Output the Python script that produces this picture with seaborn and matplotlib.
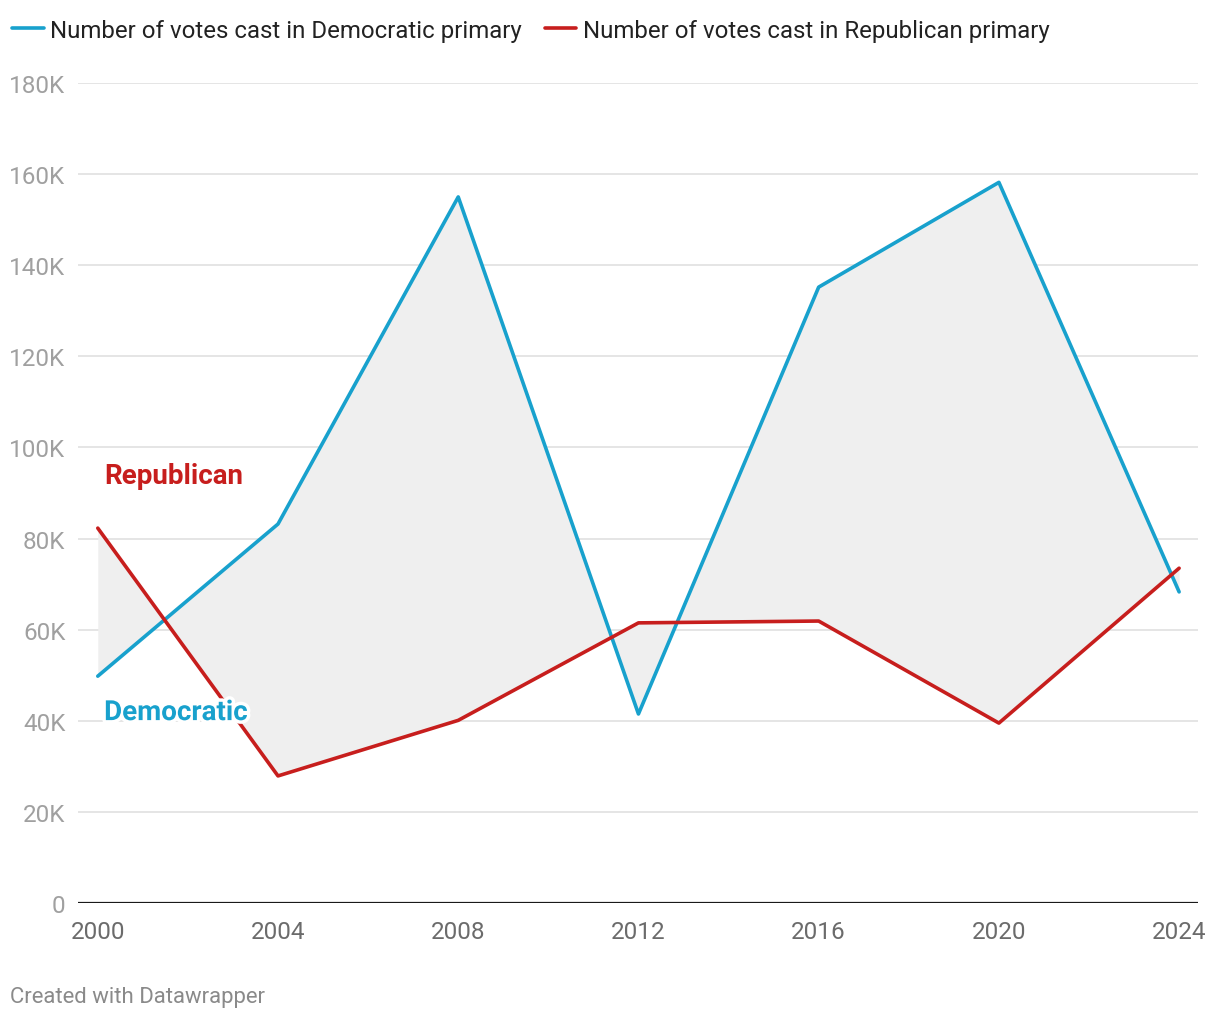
import pandas as pd
import matplotlib.pyplot as plt
import matplotlib.patheffects as pe
import seaborn as sns

# data
years = [2000, 2004, 2008, 2012, 2016, 2020, 2024]
dem_votes = [49800, 83200, 155000, 41500, 135200, 158200, 68300]
rep_votes = [82300, 27900, 40100, 61500, 61900, 39500, 73500]
y_ticks = [0, 20000, 40000, 60000, 80000, 100000, 120000, 140000, 160000, 180000]
y_labels = ['0', '20K', '40K', '60K', '80K', '100K', '120K', '140K', '160K', '180K']

dem_name = 'Number of votes cast in Democratic primary'
rep_name = 'Number of votes cast in Republican primary'

df = pd.DataFrame({
    'year': years * 2,
    'votes': dem_votes + rep_votes,
    'series': [dem_name] * len(years) + [rep_name] * len(years),
})

BLUE = '#18a1cd'
RED = '#c71e1d'

sns.set_style('white')
plt.rcParams['font.family'] = ['Roboto', 'DejaVu Sans']

fig = plt.figure(figsize=(12.2, 10.2), dpi=100)
ax = fig.add_axes([0.0639, 0.1137, 0.9181, 0.8039])

# shaded gap between the two lines
ax.fill_between(years, dem_votes, rep_votes, color='#efefef', lw=0, zorder=1)

sns.lineplot(data=df, x='year', y='votes', hue='series',
             palette={dem_name: BLUE, rep_name: RED},
             linewidth=2.6, ax=ax, zorder=3, legend=True)

ax.set_xlim(1999.56, 2024.42)
ax.set_ylim(0, 180000)
ax.set_yticks(y_ticks)
ax.set_yticklabels(y_labels)
ax.set_xticks(years)
ax.set_xticklabels([str(y) for y in years])
ax.set_xlabel('')
ax.set_ylabel('')

for t in y_ticks[1:]:
    ax.axhline(t, color='#e0e0e0', lw=1.2, zorder=0)
ax.axhline(0, color='#1a1a1a', lw=1.6, zorder=4)

for s in ax.spines.values():
    s.set_visible(False)

ax.tick_params(axis='y', length=0, pad=9, labelsize=17.5, labelcolor='#a0a0a0')
ax.tick_params(axis='x', length=0, pad=12, labelsize=17.5, labelcolor='#6b6b6b')

# legend on top
handles, labels = ax.get_legend_handles_labels()
ax.legend(handles, labels, loc='upper left', bbox_to_anchor=(-0.0075, 1.002),
          bbox_transform=fig.transFigure, ncol=2, frameon=False,
          fontsize=17.3, handlelength=1.3, handletextpad=0.28,
          columnspacing=0.95, labelcolor='#222222')

# direct labels
ax.text(2000.14, 93800, 'Republican', color=RED, fontsize=20,
        fontweight='bold', va='center', ha='left', zorder=5)
ax.text(2000.14, 41800, 'Democratic', color=BLUE, fontsize=20,
        fontweight='bold', va='center', ha='left', zorder=5,
        path_effects=[pe.withStroke(linewidth=5, foreground='white')])

fig.text(0.008, 0.022, 'Created with Datawrapper', color='#8a8a8a',
         fontsize=15.9, ha='left', va='center')

fig.savefig('out.png', dpi=100)
